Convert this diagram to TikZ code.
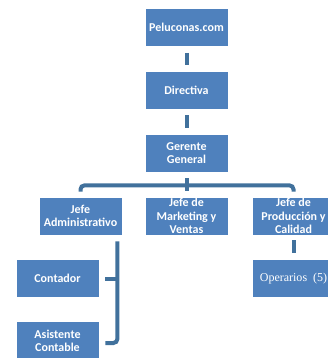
\documentclass[tikz,border=0pt]{standalone}
\usepackage{fontspec}
\setmainfont{Carlito}
\newfontfamily\serifops{Liberation Serif}
\usetikzlibrary{calc}
\definecolor{boxblue}{HTML}{4F81BD}
\definecolor{linkblue}{HTML}{41719C}
\tikzset{
  orgbox/.style={rectangle, fill=boxblue, draw=white, line width=0.75pt,
    minimum width=83pt, minimum height=38pt, inner sep=0pt, align=center,
    text=white, font=\fontsize{12}{13.3}\selectfont\bfseries},
  opsbox/.style={orgbox, font=\fontsize{12}{13.3}\selectfont\serifops},
  conn/.style={draw=linkblue, line width=4pt}
}
\begin{document}
\begin{tikzpicture}[x=1pt, y=-1pt]
\useasboundingbox (0,0) rectangle (327,358);
\node[orgbox] (pel) at (186.5,27.5) {Peluconas.com};
\node[orgbox] (dir) at (186.5,90) {Directiva};
\node[orgbox] (ger) at (186.5,153) {Gerente\\General};
\node[orgbox] (adm) at (80.5,216) {Jefe\\Administrativo};
\node[orgbox] (mkt) at (186.5,216) {Jefe de\\Marketing y\\Ventas};
\node[orgbox] (pro) at (293.5,216) {Jefe de\\Producción y\\Calidad};
\node[orgbox] (con) at (57.5,278.5) {Contador};
\node[orgbox, minimum height=39pt] (asi) at (57.5,340.5) {Asistente\\Contable};
\node[opsbox] (ope) at (293.5,278.5) {Operarios\ \ (5)};
% top chain
\draw[conn] ($(pel.south)+(0,6)$) -- ($(dir.north)+(0,-6)$);
\draw[conn] ($(dir.south)+(0,6)$) -- ($(ger.north)+(0,-6)$);
% gerente to second row
\coordinate (gtop) at ($(ger.south)+(0,6)$);
\coordinate (gbar) at ($(ger.south)+(0,13)$);
\draw[conn] (gtop) -- ($(mkt.north)+(0,-6)$);
\draw[conn, rounded corners=4pt] ($(adm.north)+(0,-5)$) |- (gbar) -| ($(pro.north)+(0,-5)$);
% administrative children
\coordinate (av) at ($(adm.south east)+(-5,6)$);
\coordinate (ae) at ($(asi.east)+(6,2.5)$);
\draw[conn, rounded corners=4pt] (av) |- (ae);
\draw[conn] (av |- con.east) -- ($(con.east)+(6,0)$);
% production child
\draw[conn] ($(pro.south)+(0,5)$) -- ($(ope.north)+(0,-6)$);
\end{tikzpicture}
\end{document}
